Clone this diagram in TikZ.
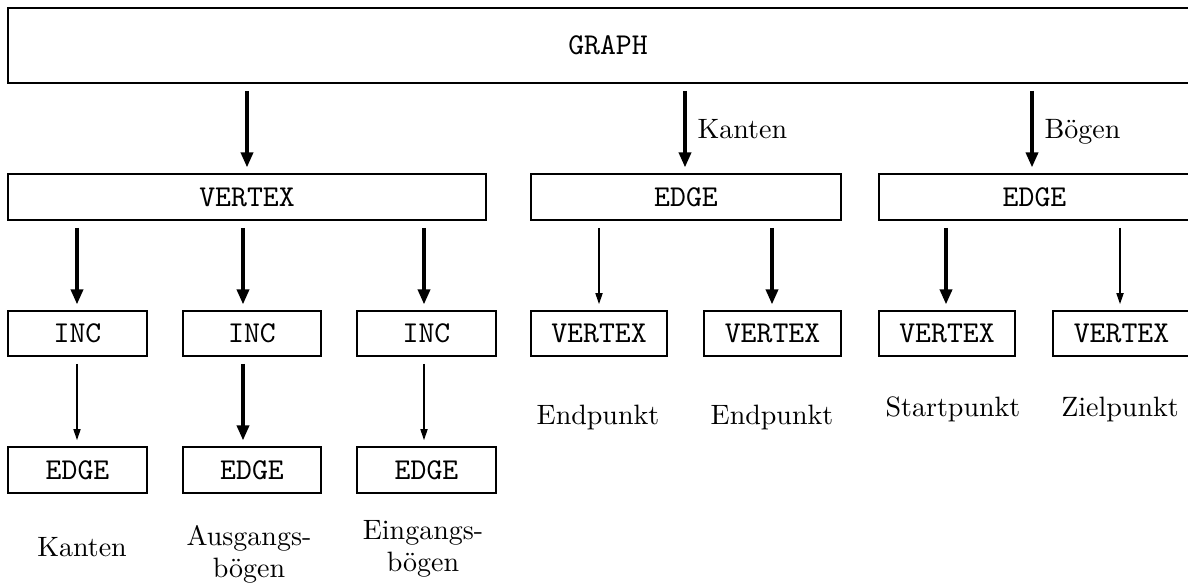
\documentclass[tikz,border=0pt]{standalone}
\usepackage{fontspec}
\usetikzlibrary{arrows.meta,calc}
\begin{document}
\begin{tikzpicture}[x=0.35pt,y=-0.35pt,
  box/.style={draw, line width=0.85pt, inner sep=0pt,
    font=\fontsize{10.6}{12}\ttfamily},
  bw/.style={minimum width=#1*0.35pt},
  bh/.style={minimum height=#1*0.35pt},
  lbl/.style={inner sep=0pt, font=\fontsize{9.8}{11.5}\selectfont, align=center},
  thk/.style={line width=1.15pt, -{Triangle[length=5.2pt,width=4.2pt]},
    shorten <=2.3pt, shorten >=1.9pt},
  thn/.style={line width=0.7pt, -{Triangle[length=3.9pt,width=2.4pt]},
    shorten <=2.3pt, shorten >=1.9pt}]
\clip (0,0) rectangle (1188,588);
\fill[white] (0,0) rectangle (1188,588);

% boxes
\node[box, bw=1200, bh=75] (graph) at (608,45.5) {GRAPH};
\node[box, bw=478, bh=46] (vertex) at (247,197) {VERTEX};
\node[box, bw=310, bh=46] (edgeA) at (686,197) {EDGE};
\node[box, bw=311, bh=46] (edgeB) at (1034.5,197) {EDGE};

\node[box, bw=139, bh=45] (inc1) at (77.5,333.5) {INC};
\node[box, bw=138, bh=45] (inc2) at (252,333.5) {INC};
\node[box, bw=139, bh=45] (inc3) at (426.5,333.5) {INC};
\node[box, bw=136, bh=45] (vA1) at (599,333.5) {VERTEX};
\node[box, bw=137, bh=45] (vA2) at (772.5,333.5) {VERTEX};
\node[box, bw=136, bh=45] (vB1) at (947,333.5) {VERTEX};
\node[box, bw=137, bh=45] (vB2) at (1121.5,333.5) {VERTEX};

\node[box, bw=139, bh=46] (e1) at (77.5,470) {EDGE};
\node[box, bw=138, bh=46] (e2) at (252,470) {EDGE};
\node[box, bw=139, bh=46] (e3) at (426.5,470) {EDGE};

% column guides for the connectors
\coordinate (c1) at (77,0);
\coordinate (c2) at (243,0);
\coordinate (c3) at (424,0);
\coordinate (c4) at (247,0);
\coordinate (c5) at (685,0);
\coordinate (c6) at (1032,0);
\coordinate (c7) at (599,0);
\coordinate (c8) at (772,0);
\coordinate (c9) at (946,0);
\coordinate (c10) at (1120,0);

% connectors
\draw[thk] (graph.south -| c4) -- (vertex.north -| c4);
\draw[thk] (graph.south -| c5) -- (edgeA.north -| c5);
\draw[thk] (graph.south -| c6) -- (edgeB.north -| c6);

\draw[thk] (vertex.south -| c1) -- (inc1.north -| c1);
\draw[thk] (vertex.south -| c2) -- (inc2.north -| c2);
\draw[thk] (vertex.south -| c3) -- (inc3.north -| c3);

\draw[thn] (inc1.south -| c1) -- (e1.north -| c1);
\draw[thk] (inc2.south -| c2) -- (e2.north -| c2);
\draw[thn] (inc3.south -| c3) -- (e3.north -| c3);

\draw[thn] (edgeA.south -| c7) -- (vA1.north -| c7);
\draw[thk] (edgeA.south -| c8) -- (vA2.north -| c8);
\draw[thk] (edgeB.south -| c9) -- (vB1.north -| c9);
\draw[thn] (edgeB.south -| c10) -- (vB2.north -| c10);

% labels (multi-line ones sit on the baseline of their last line)
\node[lbl, anchor=base west] (lk) at (697,139) {Kanten};
\node[lbl, anchor=base west] (lb) at (1044,139) {Bögen};
\node[lbl, anchor=base] (ep1) at (598,425) {Endpunkt};
\node[lbl, anchor=base] (ep2) at (772,425) {Endpunkt};
\node[lbl, anchor=base] (sp) at (953,417) {Startpunkt};
\node[lbl, anchor=base] (zp) at (1120,417) {Zielpunkt};
\node[lbl, anchor=base] (k) at (82,557) {Kanten};
\node[lbl, anchor=base] (ab) at (249,578) {Ausgangs-\\bögen};
\node[lbl, anchor=base] (eb) at (423,572) {Eingangs-\\bögen};
\end{tikzpicture}
\end{document}
